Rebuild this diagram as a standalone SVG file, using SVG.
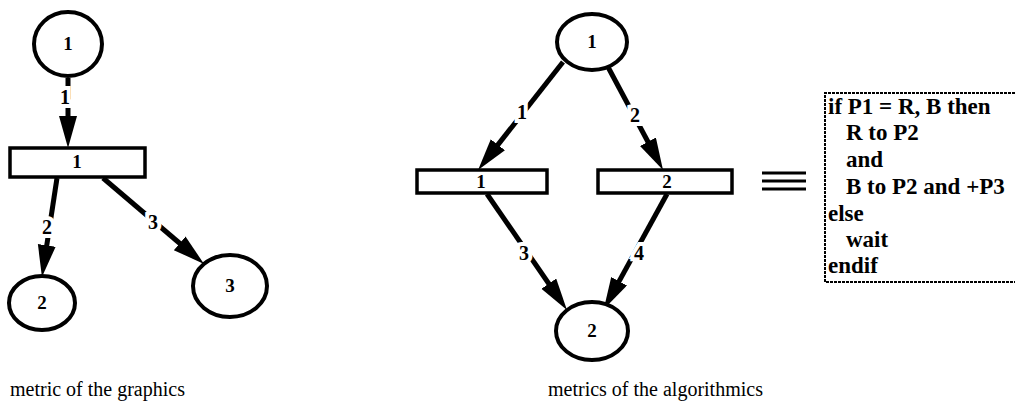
<svg xmlns="http://www.w3.org/2000/svg" width="1015" height="416" viewBox="0 0 1015 416">
<style>
.pl{fill:#fff;stroke:#000;stroke-width:4}
.tr{fill:#fff;stroke:#000;stroke-width:3.5}
.num{font-family:"Liberation Serif",serif;font-size:19px;font-weight:bold;text-anchor:middle;fill:#000}
.arc{stroke:#000;stroke-width:5;fill:none;marker-end:url(#ah)}
.lbl{font-family:"Liberation Serif",serif;font-size:20px;font-weight:bold;text-anchor:middle;fill:#000;stroke:#fff;stroke-width:8;paint-order:stroke}
.code{font-family:"Liberation Serif",serif;font-size:23px;font-weight:bold;fill:#000}
.cap{font-family:"Liberation Serif",serif;font-size:20px;fill:#000}
</style>
<defs>
<marker id="ah" markerUnits="userSpaceOnUse" markerWidth="34" markerHeight="20" refX="15" refY="9" orient="auto" viewBox="0 0 34 20">
<path d="M0,0 L32,9 L0,18 z" fill="#000"/>
</marker>
</defs>
<rect width="1015" height="416" fill="#fff"/>
<g id="connectors">
<line class="arc" x1="68" y1="78" x2="68" y2="131"/>
<line class="arc" x1="57" y1="178" x2="44.5" y2="260.2"/>
<line class="arc" x1="103" y1="178" x2="191.1" y2="253"/>
<line class="arc" x1="563" y1="62" x2="488.6" y2="156.6"/>
<line class="arc" x1="608" y1="67" x2="655" y2="155"/>
<line class="arc" x1="487" y1="194" x2="557.3" y2="296"/>
<line class="arc" x1="667" y1="194" x2="611.9" y2="294.4"/>
<text class="lbl" x="65" y="104">1</text>
<text class="lbl" x="47" y="234">2</text>
<text class="lbl" x="153" y="229">3</text>
<text class="lbl" x="522" y="119">1</text>
<text class="lbl" x="635" y="122">2</text>
<text class="lbl" x="524" y="260">3</text>
<text class="lbl" x="639" y="260">4</text>
</g>
<g id="L_place1"><ellipse class="pl" cx="68" cy="44" rx="34" ry="32"/><text class="num" x="68" y="50">1</text></g>
<g id="L_trans1"><rect class="tr" x="10" y="148" width="135" height="29"/><text class="num" x="77" y="168">1</text></g>
<g id="L_place2"><ellipse class="pl" cx="42" cy="303" rx="33" ry="27"/><text class="num" x="42" y="309">2</text></g>
<g id="L_place3"><ellipse class="pl" cx="230" cy="286" rx="37" ry="31"/><text class="num" x="230" y="292">3</text></g>
<g id="R_place1"><ellipse class="pl" cx="592" cy="42" rx="35" ry="28"/><text class="num" x="592" y="48">1</text></g>
<g id="R_trans1"><rect class="tr" x="417" y="170" width="130" height="23"/><text class="num" x="481" y="188">1</text></g>
<g id="R_trans2"><rect class="tr" x="598" y="170" width="134" height="23"/><text class="num" x="667" y="188">2</text></g>
<g id="R_place2"><ellipse class="pl" cx="592" cy="331" rx="36" ry="29"/><text class="num" x="592" y="337">2</text></g>
<g id="equiv" stroke="#000" stroke-width="3">
<line x1="762" y1="173" x2="806" y2="173"/>
<line x1="762" y1="181" x2="806" y2="181"/>
<line x1="762" y1="189" x2="806" y2="189"/>
</g>
<g id="codebox">
<path d="M1015,93 L825,93 L825,282 L1015,282" fill="none" stroke="#000" stroke-width="2" stroke-dasharray="3,1"/>
<text class="code" x="828" y="114">if P1 = R, B  then</text>
<text class="code" x="846" y="140">R to P2</text>
<text class="code" x="846" y="167">and</text>
<text class="code" x="846" y="194">B to P2 and +P3</text>
<text class="code" x="828" y="221">else</text>
<text class="code" x="846" y="247">wait</text>
<text class="code" x="828" y="273">endif</text>
</g>
<g id="captions">
<text class="cap" x="10" y="396">metric of the graphics</text>
<text class="cap" x="548" y="396">metrics of the algorithmics</text>
</g>
</svg>
